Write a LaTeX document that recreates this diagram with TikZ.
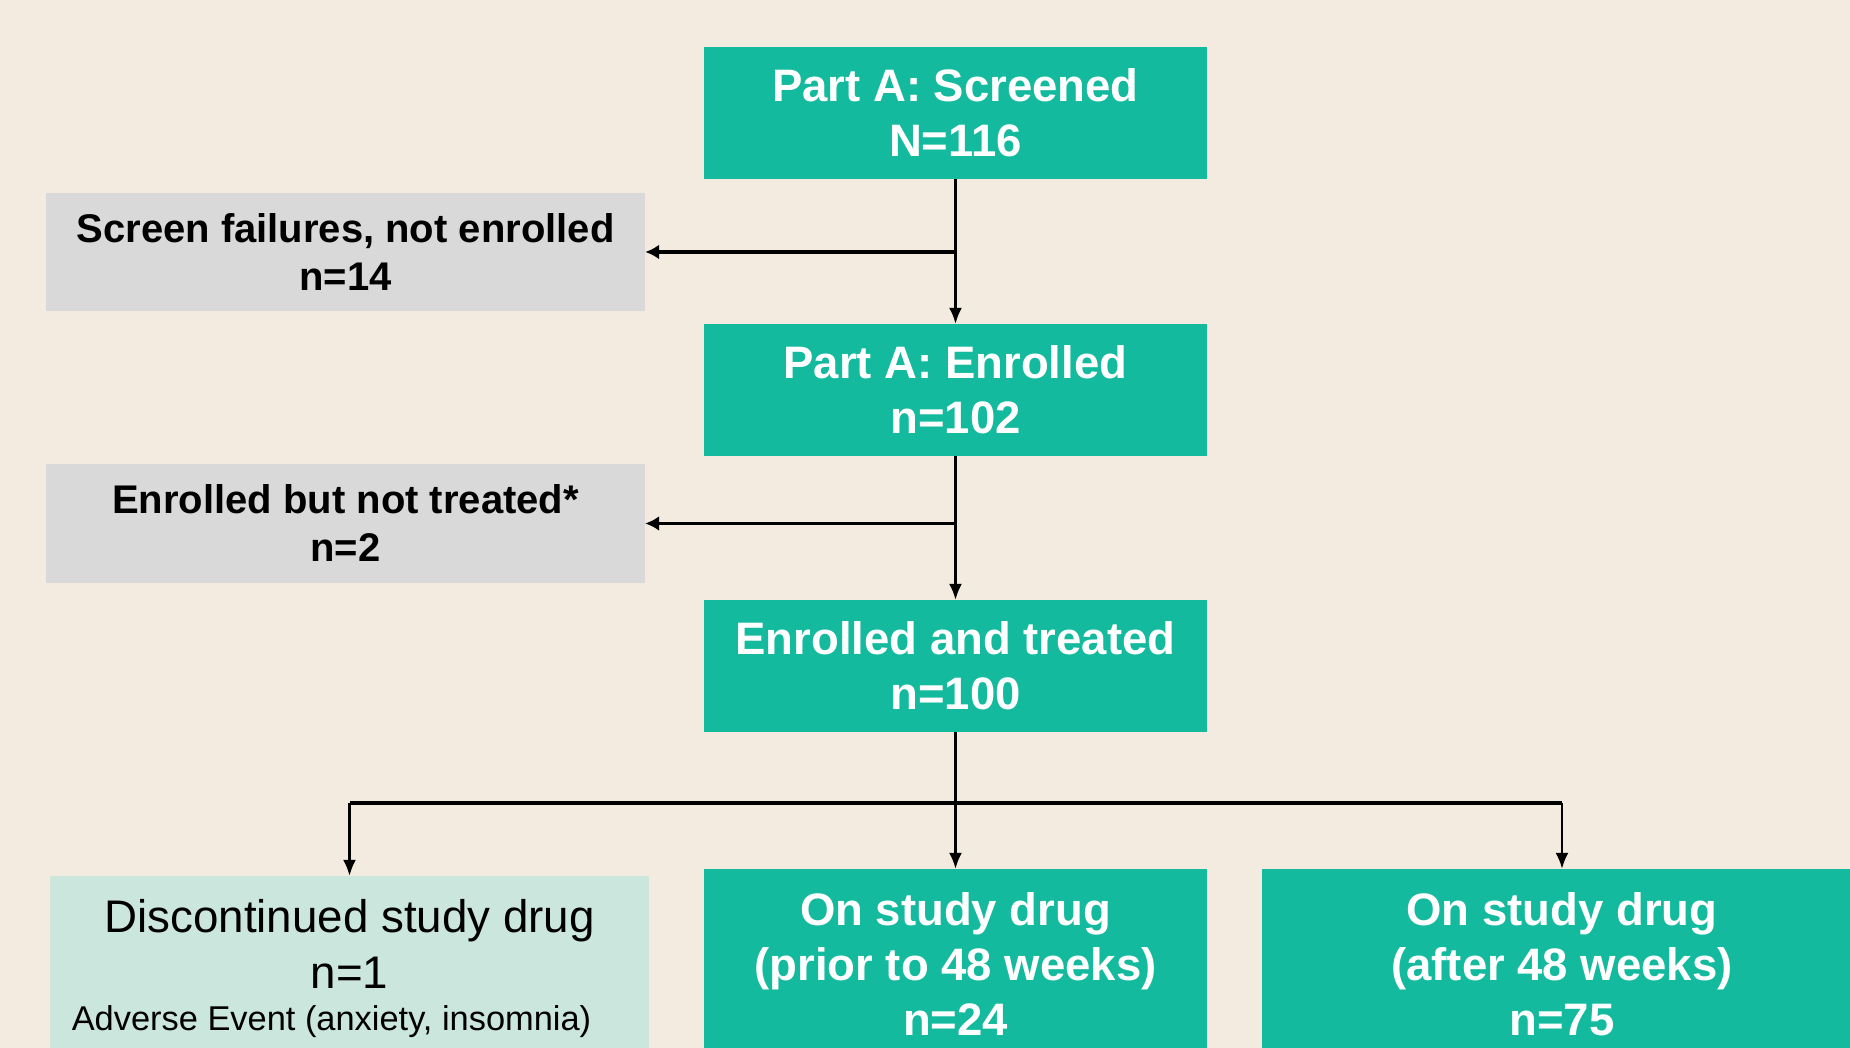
\documentclass[tikz,border=0pt]{standalone}
\usepackage{fontspec}
\setmainfont{Liberation Sans}
\usetikzlibrary{arrows.meta}
\definecolor{bgc}{RGB}{243,235,223}
\definecolor{tealc}{RGB}{19,186,158}
\definecolor{greyc}{RGB}{217,217,217}
\definecolor{mintc}{RGB}{203,230,220}
\begin{document}
\begin{tikzpicture}[x=1pt,y=1pt,
  tealbox/.style={fill=tealc, text=white, font=\bfseries\fontsize{45.5}{55}\selectfont,
    align=center, inner sep=0pt, minimum width=503pt, minimum height=132pt},
  greybox/.style={fill=greyc, text=black, font=\bfseries\fontsize{40}{48}\selectfont,
    align=center, inner sep=0pt, minimum width=599pt, minimum height=118pt},
  mintbox/.style={fill=mintc, text=black, font=\fontsize{45.7}{56}\selectfont,
    align=center, inner sep=0pt, minimum width=599pt, minimum height=186pt},
  vline/.style={line width=2.2pt, draw=black, -{Latex[length=16pt,width=13pt]}},
  hline/.style={line width=3.2pt, draw=black},
  harrow/.style={line width=3.2pt, draw=black, -{Latex[length=14pt,width=15pt]}}
]
\useasboundingbox (0,0) rectangle (1850,1048);
\fill[bgc] (0,0) rectangle (1850,1048);
\clip (0,0) rectangle (1850,1048);

\node[tealbox] (screened) at (955.5,935) {Part A: Screened\\N=116};
\node[tealbox] (enrolled) at (955.5,658) {Part A: Enrolled\\n=102};
\node[tealbox] (treated) at (955.5,382) {Enrolled and treated\\n=100};
\node[greybox] (fail) at (345.5,796) {Screen failures, not enrolled\\n=14};
\node[greybox, minimum height=119pt] (nottreated) at (345.5,524.5) {Enrolled but not treated*\\n=2};
\node[mintbox] (disc) at (349.5,79) {Discontinued study drug\\n=1\\[-14pt]{\fontsize{34.4}{42}\selectfont Adverse Event (anxiety, insomnia)\kern36pt}};
\node[tealbox, minimum height=191pt] (prior) at (955.5,83.5) {On study drug\\(prior to 48 weeks)\\n=24};
\node[tealbox, minimum width=600pt, minimum height=191pt] (after) at (1562,83.5) {On study drug\\(after 48 weeks)\\n=75};

\coordinate (branch) at (955.5,245);

\draw[vline] (screened.south) -- (enrolled.north);
\draw[harrow] (fail.east -| screened.south) -- (fail.east);
\draw[vline] (enrolled.south) -- (treated.north);
\draw[harrow] (nottreated.east -| enrolled.south) -- (nottreated.east);
\draw[vline] (treated.south) -- (prior.north);
\draw[hline] (disc.north |- branch) -- (after.north |- branch);
\draw[vline] (disc.north |- branch) -- (disc.north);
\draw[vline] (after.north |- branch) -- (after.north);
\end{tikzpicture}
\end{document}
